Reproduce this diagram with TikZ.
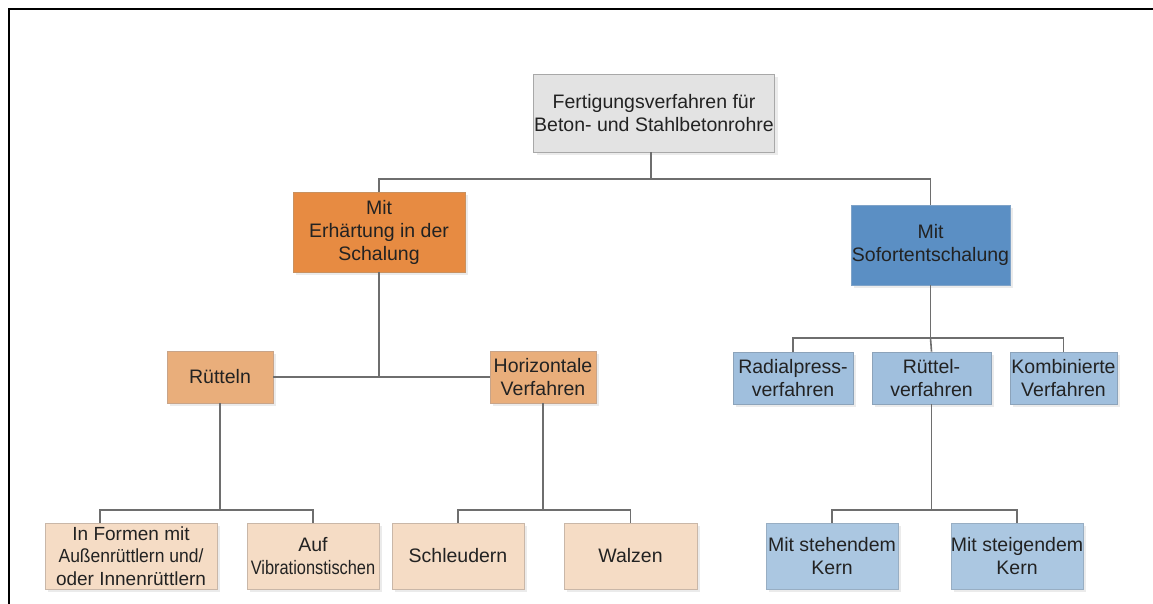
\documentclass[tikz,border=0pt]{standalone}
\usepackage{fontspec}
\setmainfont{Liberation Sans}
\usetikzlibrary{shadows}
\definecolor{txt}{HTML}{222222}
\definecolor{conn}{HTML}{6E6E6E}
\definecolor{rootfill}{HTML}{E3E3E3}\definecolor{rootline}{HTML}{A8A8A8}
\definecolor{orA}{HTML}{E78B42}\definecolor{orAline}{HTML}{C9915F}
\definecolor{orB}{HTML}{E9AE7B}\definecolor{orBline}{HTML}{C8A489}
\definecolor{orC}{HTML}{F5DCC5}\definecolor{orCline}{HTML}{C9B7A8}
\definecolor{blA}{HTML}{5B8FC4}\definecolor{blAline}{HTML}{7FA3C8}
\definecolor{blB}{HTML}{A0BFDD}\definecolor{blBline}{HTML}{8CA3BA}
\definecolor{blC}{HTML}{ABC7E1}\definecolor{blCline}{HTML}{98AEC3}
\tikzset{
  box/.style={rectangle, draw, line width=0.7pt, align=center, inner sep=0pt,
    text=txt, font=\fontsize{19.5}{23}\selectfont,
    drop shadow={shadow xshift=3pt, shadow yshift=-3pt, fill=black, opacity=0.08}},
  rootbox/.style={box, fill=rootfill, draw=rootline},
  lvlA/.style={box, fill=orA, draw=orAline},
  lvlB/.style={box, fill=orB, draw=orBline},
  lvlC/.style={box, fill=orC, draw=orCline},
  lvlBA/.style={box, fill=blA, draw=blAline},
  lvlBB/.style={box, fill=blB, draw=blBline},
  lvlBC/.style={box, fill=blC, draw=blCline},
  link/.style={draw=conn, line width=1.6pt},
  frameline/.style={draw=black, line width=2pt}
}
\begin{document}
\begin{tikzpicture}[x=1pt, y=-1pt]
  \useasboundingbox (0,0) rectangle (1153,604);
  \fill[white] (0,0) rectangle (1153,604);
  % outer frame
  \draw[frameline] (8.5,604) -- (8.5,9.3) -- (1153,9.3);

  % nodes
  \node[rootbox, minimum width=241pt, minimum height=78pt] (root) at (654,113)
    {Fertigungsverfahren für\\Beton- und Stahlbetonrohre};

  \node[lvlA, minimum width=172pt, minimum height=80pt] (erh) at (379,232)
    {Mit\\Erhärtung in der\\Schalung};
  \node[lvlBA, minimum width=159pt, minimum height=80pt] (sof) at (930.5,245)
    {Mit\\Sofortentschalung};

  \node[lvlB, minimum width=106pt, minimum height=52pt] (rue) at (220,377) {Rütteln};
  \node[lvlB, minimum width=106pt, minimum height=52pt] (hor) at (543,377)
    {Horizontale\\Verfahren};

  \node[lvlBB, minimum width=120pt, minimum height=52pt] (rad) at (793,378)
    {Radialpress-\\verfahren};
  \node[lvlBB, minimum width=119pt, minimum height=52pt] (rv) at (931.5,378)
    {Rüttel-\\verfahren};
  \node[lvlBB, minimum width=107pt, minimum height=52pt] (kom) at (1063.5,378)
    {Kombinierte\\Verfahren};

  \node[lvlC, minimum width=172pt, minimum height=66pt,
        font=\fontsize{19}{22.5}\selectfont] (form) at (131,556)
    {In Formen mit\\\scalebox{0.92}[1]{Außenrüttlern und/}\\oder Innenrüttlern};
  \node[lvlC, minimum width=132pt, minimum height=66pt] (auf) at (313,556)
    {Auf\\\scalebox{0.84}[1]{Vibrationstischen}};
  \node[lvlC, minimum width=132pt, minimum height=66pt] (sch) at (458,556) {Schleudern};
  \node[lvlC, minimum width=133pt, minimum height=66pt] (wal) at (630.5,556) {Walzen};

  \node[lvlBC, minimum width=132pt, minimum height=66pt] (steh) at (832,556)
    {Mit stehendem\\Kern};
  \node[lvlBC, minimum width=132pt, minimum height=66pt] (steig) at (1017,556)
    {Mit steigendem\\Kern};

  % junction helpers
  \coordinate (topbar) at (0,179);
  \coordinate (midbar) at (0,377);
  \coordinate (blbar) at (0,338);
  \coordinate (lowbar) at (0,510);
  \coordinate (legform) at (100,0);
  \coordinate (rootleg) at (651,0);

  % connectors
  \draw[link] (root.south -| rootleg) -- (topbar -| rootleg) -| (erh.north);
  \draw[link] (topbar -| rootleg) -| (sof.north);

  \draw[link] (erh.south) -- (midbar -| erh.south);
  \draw[link] (rue.east) -- (hor.west);

  \draw[link] (sof.south) -- (blbar -| sof.south) -| (rad.north);
  \draw[link] (blbar -| sof.south) -| (kom.north);
  \draw[link] (blbar -| sof.south) -- (rv.north);

  \draw[link] (rue.south) -- (lowbar -| rue.south) -| (form.north -| legform);
  \draw[link] (lowbar -| rue.south) -| (auf.north);

  \draw[link] (hor.south) -- (lowbar -| hor.south) -| (sch.north);
  \draw[link] (lowbar -| hor.south) -| (wal.north);

  \draw[link] (rv.south) -- (lowbar -| rv.south) -| (steh.north);
  \draw[link] (lowbar -| rv.south) -| (steig.north);
\end{tikzpicture}
\end{document}
